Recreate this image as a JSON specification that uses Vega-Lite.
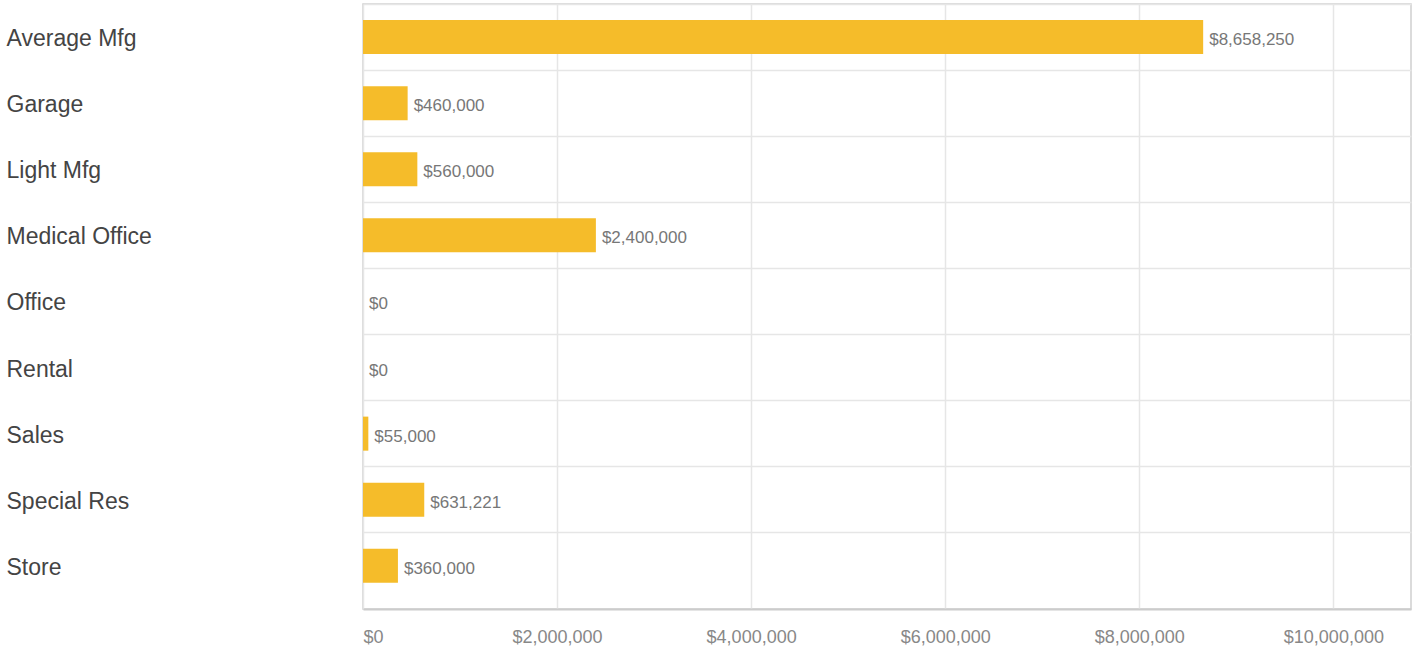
{
  "$schema": "https://vega.github.io/schema/vega-lite/v6.json",
  "autosize": {"type": "none"},
  "padding": {"left": 363, "top": 4, "right": 5, "bottom": 38},
  "width": 1048,
  "height": 605,
  "background": "white",
  "config": {
    "view": {"stroke": "#d0d0d0", "strokeWidth": 1.5}
  },
  "data": {
    "values": [
      {"category": "Average Mfg", "value": 8658250},
      {"category": "Garage", "value": 460000},
      {"category": "Light Mfg", "value": 560000},
      {"category": "Medical Office", "value": 2400000},
      {"category": "Office", "value": 0},
      {"category": "Rental", "value": 0},
      {"category": "Sales", "value": 55000},
      {"category": "Special Res", "value": 631221},
      {"category": "Store", "value": 360000}
    ]
  },
  "encoding": {
    "y": {
      "field": "category",
      "type": "nominal",
      "sort": null,
      "scale": {"paddingInner": 0, "paddingOuter": 0.0765, "align": 0},
      "axis": {
        "title": null,
        "domain": false,
        "ticks": false,
        "grid": true,
        "bandPosition": 0,
        "gridColor": "#e6e6e6",
        "gridWidth": 1.5,
        "labelAlign": "left",
        "labelPadding": 357,
        "labelOffset": 2,
        "labelFont": "Liberation Sans",
        "labelFontSize": 23,
        "labelColor": "#444444",
        "labelLimit": 350
      }
    },
    "x": {
      "field": "value",
      "type": "quantitative",
      "scale": {"domain": [0, 10800000], "nice": false, "zero": true},
      "axis": {
        "title": null,
        "values": [0, 2000000, 4000000, 6000000, 8000000, 10000000],
        "format": "$,.0f",
        "domain": true,
        "domainColor": "#cccccc",
        "domainWidth": 2,
        "ticks": false,
        "grid": true,
        "gridColor": "#e6e6e6",
        "gridWidth": 1.5,
        "labelPadding": 19,
        "labelFont": "Liberation Sans",
        "labelFontSize": 18,
        "labelColor": "#888888"
      }
    }
  },
  "layer": [
    {
      "mark": {"type": "bar", "color": "#F5BC2A", "height": {"band": 0.515}}
    },
    {
      "mark": {"type": "text", "align": "left", "baseline": "middle", "dx": 6, "dy": 3, "font": "Liberation Sans", "fontSize": 17, "color": "#777777"},
      "encoding": {
        "text": {"field": "value", "type": "quantitative", "format": "$,.0f"}
      }
    }
  ]
}
